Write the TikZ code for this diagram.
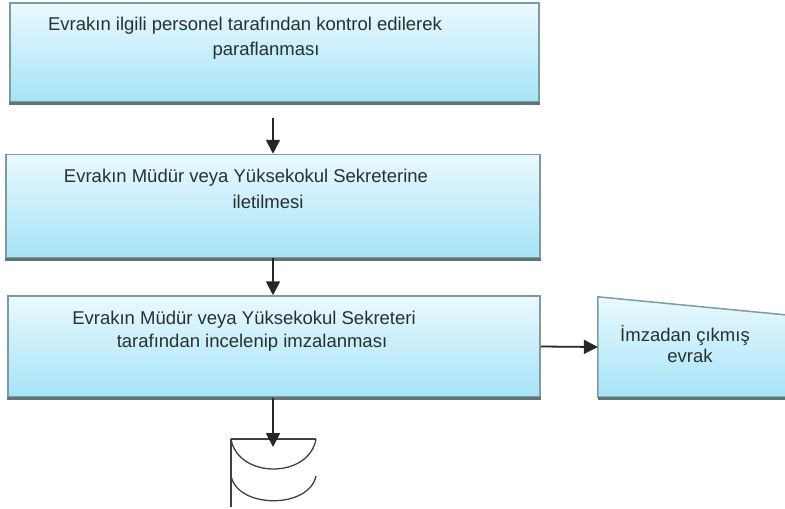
\documentclass[tikz,border=0pt]{standalone}
\usepackage{fontspec}
\setmainfont{Liberation Sans}
\usetikzlibrary{arrows.meta,calc}
\definecolor{boxline}{HTML}{7E9C9E}
\definecolor{boxshadow}{HTML}{5E7476}
\definecolor{boxtop}{HTML}{EAF9FE}
\definecolor{boxbottom}{HTML}{A6E3F7}
\definecolor{txt}{HTML}{263232}
\tikzset{
  procbox/.style={draw=boxline, line width=1.5pt, top color=boxtop, bottom color=boxbottom,
    rectangle, inner sep=0pt},
  boxtext/.style={text=txt, font=\fontsize{18.5}{20}\selectfont, inner sep=0pt, anchor=center},
  flow/.style={draw=black!85, line width=1.8pt, -{Triangle[length=14pt,width=14pt]}},
  shadowline/.style={draw=boxshadow, line width=3pt},
  offpage/.style={draw=black!75, line width=1.3pt}
}
\begin{document}
\begin{tikzpicture}[x=1pt,y=-1pt]
\useasboundingbox (0,0) rectangle (785,509);

% process boxes
\node[procbox, minimum width=529pt, minimum height=99pt] (b1) at (274.5,52.5) {};
\node[procbox, minimum width=534pt, minimum height=103pt] (b2) at (273,206) {};
\node[procbox, minimum width=532pt, minimum height=101pt] (b3) at (274,346.5) {};

% darker strip along the lower edges
\draw[shadowline] ([yshift=-1pt]b1.south west) -- ([yshift=-1pt]b1.south east);
\draw[shadowline] ([yshift=-1pt]b2.south west) -- ([yshift=-1pt]b2.south east);
\draw[shadowline] ([yshift=-1pt]b3.south west) -- ([yshift=-1pt]b3.south east);

% box texts
\node[boxtext] (t1a) at (245,26) {Evrakın ilgili personel tarafından kontrol edilerek};
\node[boxtext] (t1b) at (266,51) {paraflanması};
\node[boxtext] (t2a) at (246,178) {Evrakın Müdür veya Yüksekokul Sekreterine};
\node[boxtext] (t2b) at (268,202) {iletilmesi};
\node[boxtext] (t3a) at (244,320) {Evrakın Müdür veya Yüksekokul Sekreteri};
\node[boxtext] (t3b) at (252,343) {tarafından incelenip imzalanması};

% manual input shape on the right
\node[inner sep=0pt, minimum width=187pt, minimum height=100pt] (b4) at (691.5,347) {};
\path[top color=boxtop, bottom color=boxbottom]
  (b4.north west) -- ($(b4.north east)+(0,18)$) -- (b4.south east) -- (b4.south west) -- cycle;
\draw[boxline, line width=1.5pt]
  (b4.south east) -- (b4.south west) -- (b4.north west) -- ($(b4.north east)+(0,18)$);
\draw[shadowline] ([yshift=-1pt]b4.south west) -- ([yshift=-1pt]b4.south east);
\node[boxtext] (t4a) at (685,335) {İmzadan çıkmış};
\node[boxtext] (t4b) at (690,356) {evrak};

% off-page connector
\coordinate (op) at (273.5,439);
\coordinate (opin) at (273,447);
\draw[offpage] ($(op)+(-42.5,0)$) -- ($(op)+(42.5,0)$);
\draw[offpage] ($(op)+(-42.5,0)$) -- ($(op)+(-42.5,68)$);
\draw[offpage] ($(op)+(-42.5,0)$) .. controls ($(op)+(-35.5,40)$) and ($(op)+(35.5,40)$) .. ($(op)+(42.5,0)$);
\draw[offpage] ($(op)+(-42.5,37)$) .. controls ($(op)+(-35.5,70)$) and ($(op)+(35.5,70)$) .. ($(op)+(42.5,37)$);

% connectors
\draw[flow, shorten <=15pt] (b2.north |- b1.south) -- (b2.north);
\draw[flow] (b2.south) -- (b3.north -| b2.south);
\draw[flow] (b3.south -| opin) -- (opin);
\draw[flow] (b3.east) -- (b4.west);
\end{tikzpicture}
\end{document}
